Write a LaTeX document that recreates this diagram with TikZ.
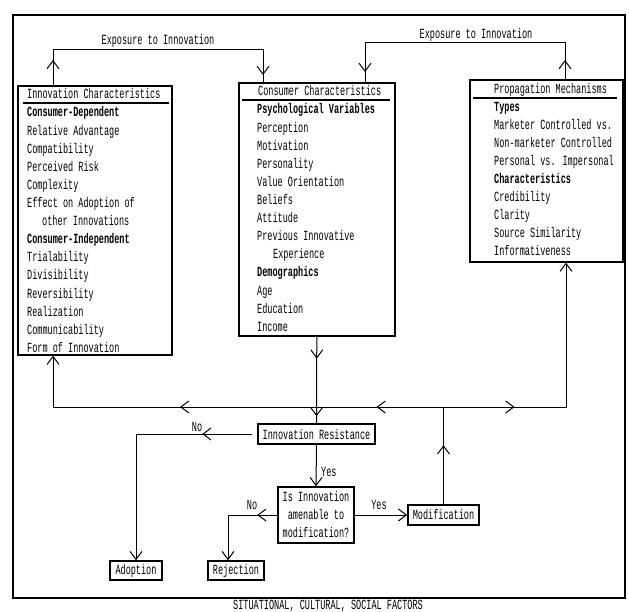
\documentclass[tikz,border=0pt]{standalone}
\usepackage{fontspec}
\newfontfamily\tw[FakeStretch=0.61]{Liberation Mono}
\usetikzlibrary{arrows.meta,decorations.markings}

\begin{document}
\begin{tikzpicture}[x=1pt,y=-1pt,
  every node/.style={font=\tw\fontsize{14}{18}\selectfont, inner sep=0pt},
  >={Straight Barb[length=8pt,width=12pt]},
  conn/.style={line width=1pt},
  bigbox/.style={draw, line width=1.6pt, inner sep=0pt, anchor=north west},
  sbox/.style={draw, line width=1.6pt, inner sep=0pt, anchor=center, align=center},
  item/.style={anchor=base west},
  rule/.style={line width=1.2pt},
  tipat/.style={postaction={decorate,decoration={markings,mark=at position #1 with {\arrow{>}}}}},
]
\useasboundingbox (0,0) rectangle (629,612);

% outer frame and its caption
\draw[line width=1.3pt] (13,15) rectangle (625,598);
\node (factors) at (328,606) {SITUATIONAL, CULTURAL, SOCIAL FACTORS};

% the three characteristic boxes
\node[bigbox, minimum width=154, minimum height=269] (inno) at (17,85) {};
\node[bigbox, minimum width=156, minimum height=253] (cons) at (238,82) {};
\node[bigbox, minimum width=153, minimum height=182] (prop) at (469,79) {};

% titles with their underlines
\node[item] (innotitle) at (27,99) {Innovation Characteristics};
\draw[rule] ([xshift=6pt,yshift=-18pt]inno.north west) -- ([xshift=-4pt,yshift=-18pt]inno.north east);
\node[item] (constitle) at (258,96) {Consumer Characteristics};
\draw[rule] ([xshift=4pt,yshift=-18pt]cons.north west) -- ([xshift=-6pt,yshift=-18pt]cons.north east);
\node[item] (proptitle) at (494,94) {Propagation Mechanisms};
\draw[rule] ([xshift=4pt,yshift=-19pt]prop.north west) -- ([xshift=-7pt,yshift=-19pt]prop.north east);

% box contents
\foreach [count=\i] \t in {{\bfseries Consumer-Dependent}, Relative Advantage, Compatibility,
    Perceived Risk, Complexity, Effect on Adoption of, \hspace*{15pt}other Innovations,
    {\bfseries Consumer-Independent}, Trialability, Divisibility, Reversibility,
    Realization, Communicability, Form of Innovation}
  \node[item] (inno-\i) at (27,{117+18.1*(\i-1)}) {\t};

\foreach [count=\i] \t in {{\bfseries Psychological Variables}, Perception, Motivation,
    Personality, Value Orientation, Beliefs, Attitude, Previous Innovative,
    \hspace*{16pt}Experience, {\bfseries Demographics}, Age, Education, Income}
  \node[item] (cons-\i) at (257,{114+18.1*(\i-1)}) {\t};

\foreach [count=\i] \t in {{\bfseries Types}, Marketer Controlled vs.,
    Non-marketer Controlled, Personal vs. Impersonal, {\bfseries Characteristics},
    Credibility, Clarity, Source Similarity, Informativeness}
  \node[item] (prop-\i) at (494,{112+17.9*(\i-1)}) {\t};

% decision part
\node[sbox, minimum width=117, minimum height=20] (resist) at (316.5,434) {Innovation Resistance};
\node[sbox, minimum width=76, minimum height=56] (question) at (316,515) {Is Innovation\\amenable to\\modification?};
\node[sbox, minimum width=52, minimum height=19] (adopt) at (136,570.5) {Adoption};
\node[sbox, minimum width=56, minimum height=19] (reject) at (236,570.5) {Rejection};
\node[sbox, minimum width=71, minimum height=20] (modif) at (443.5,515) {Modification};

% routing points
\coordinate (e1) at (53,50);
\coordinate (e2) at (263,50);
\coordinate (e3) at (365,43);
\coordinate (e4) at (565,43);
\coordinate (j) at (316,407);
\coordinate (p1) at (566,407);
\coordinate (r1) at (228,515);

% exposure loops
\node (expl) at (158,41) {Exposure to Innovation};
\draw[conn, tipat=25pt, tipat=-7pt] (inno.north -| e1) -- (e1) -- (e2) -- (cons.north -| e2);
\node (expr) at (476,35) {Exposure to Innovation};
\draw[conn, tipat=19pt, tipat=-10pt] (prop.north -| e4) -- (e4) -- (e3) -- (cons.north -| e3);

% consumer characteristics into resistance
\draw[conn, tipat=22pt, tipat=-7pt] (cons.south) -- (resist.north);

% feedback line
\draw[conn, tipat=136pt, ->] (j) -- (j -| e1) -- (inno.south -| e1);
\draw[conn, tipat=59pt] (modif.north) -- (modif.north |- j);
\draw[conn, tipat=67pt] (modif.north |- j) -- (j);
\draw[conn, tipat=71pt, ->] (modif.north |- j) -- (p1) -- (prop.south -| p1);

% decision branches
\draw[conn, ->] (resist.south) -- (question.north);
\node[anchor=west] (yes1) at (321,472) {Yes};
\draw[conn, tipat=50pt, ->] ([xshift=-5pt]resist.west) -- (resist.west -| adopt.north) -- (adopt.north);
\node (no1) at (197,427) {No};
\draw[conn, tipat=20pt, ->] (question.west) -- (r1) -- (reject.north -| r1);
\node (no2) at (252,505) {No};
\draw[conn, ->] (question.east) -- (modif.west);
\node (yes2) at (379,505) {Yes};
\end{tikzpicture}
\end{document}
